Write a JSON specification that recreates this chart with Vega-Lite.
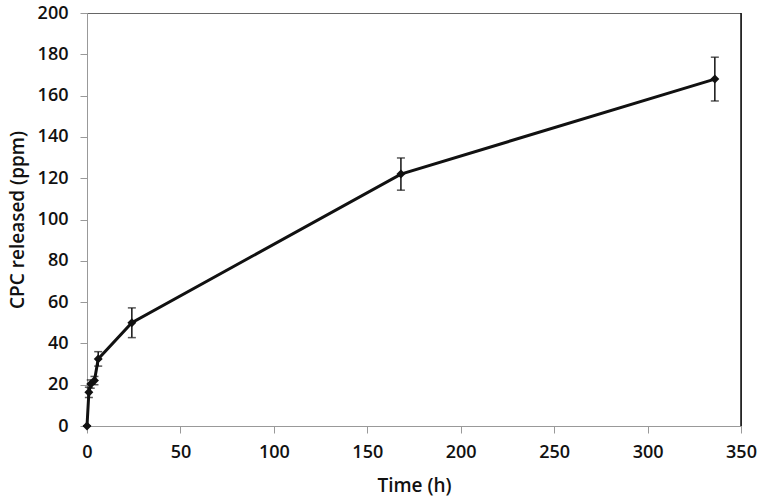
{
  "$schema": "https://vega.github.io/schema/vega-lite/v6.json",
  "autosize": "none",
  "width": 654,
  "height": 413,
  "padding": {"left": 87, "top": 13, "right": 19, "bottom": 76},
  "background": "white",
  "config": {
    "view": {"stroke": "#666", "strokeWidth": 1},
    "axis": {"grid": false, "domainColor": "#999", "tickColor": "#999", "labelColor": "#111", "titleColor": "#111", "labelFont": "Open Sans", "titleFont": "Open Sans", "labelFontSize": 18, "titleFontSize": 19, "titleFontWeight": 600, "labelFontWeight": 600, "tickSize": 7, "labelFlush": false, "labelOverlap": false}
  },
  "data": {"values": [
    {"t": 0, "v": 0, "e": 0},
    {"t": 1, "v": 16.3, "e": 2.5},
    {"t": 2, "v": 20.3, "e": 2},
    {"t": 4, "v": 22, "e": 2},
    {"t": 6, "v": 32.5, "e": 3.5},
    {"t": 24, "v": 50, "e": 7.2},
    {"t": 168, "v": 122, "e": 7.8},
    {"t": 336, "v": 168, "e": 10.6}
  ]},
  "transform": [
    {"calculate": "datum.v - datum.e", "as": "lo"},
    {"calculate": "datum.v + datum.e", "as": "hi"}
  ],
  "layer": [
    {
      "mark": {"type": "rule", "color": "#111", "strokeWidth": 1.5},
      "encoding": {
        "x": {"field": "t", "type": "quantitative", "scale": {"domain": [0, 350]}, "axis": {"values": [0,50,100,150,200,250,300,350], "title": "Time (h)", "labelPadding": 10, "titlePadding": 15}},
        "y": {"field": "lo", "type": "quantitative", "scale": {"domain": [0, 200]}, "axis": {"values": [0,20,40,60,80,100,120,140,160,180,200], "title": "CPC released (ppm)", "labelPadding": 12, "titlePadding": 10}},
        "y2": {"field": "hi"}
      }
    },
    {
      "mark": {"type": "tick", "orient": "horizontal", "color": "#111", "size": 8, "thickness": 1.5},
      "encoding": {"x": {"field": "t", "type": "quantitative"}, "y": {"field": "lo", "type": "quantitative"}}
    },
    {
      "mark": {"type": "tick", "orient": "horizontal", "color": "#111", "size": 8, "thickness": 1.5},
      "encoding": {"x": {"field": "t", "type": "quantitative"}, "y": {"field": "hi", "type": "quantitative"}}
    },
    {
      "mark": {"type": "line", "color": "#111", "strokeWidth": 3},
      "encoding": {"x": {"field": "t", "type": "quantitative"}, "y": {"field": "v", "type": "quantitative"}}
    },
    {
      "mark": {"type": "point", "shape": "diamond", "filled": true, "color": "#111", "opacity": 1, "size": 80},
      "encoding": {"x": {"field": "t", "type": "quantitative"}, "y": {"field": "v", "type": "quantitative"}}
    },
    {
      "data": {"values": [{"xr": 350}]},
      "mark": {"type": "rule", "color": "#111", "strokeWidth": 1.5},
      "encoding": {"x": {"field": "xr", "type": "quantitative"}}
    }
  ]
}
